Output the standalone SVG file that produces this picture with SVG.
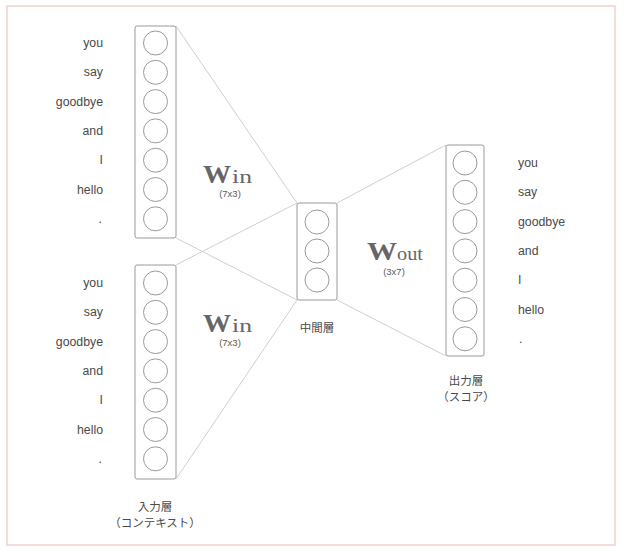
<svg xmlns="http://www.w3.org/2000/svg" width="628" height="550" viewBox="0 0 628 550">
<style>
.frame{fill:#fff;stroke:#e8c6c0;stroke-width:1.2}
.box{fill:none;stroke:#9a9a9a;stroke-width:1}
.nd{fill:#fff;stroke:#9a9a9a;stroke-width:1}
.conn{stroke:#cfcfcf;stroke-width:1;fill:none}
.lbl{font-family:"Liberation Sans",Arial,sans-serif;font-size:12.3px;fill:#4a4a4a}
.l{text-anchor:end}
.r{text-anchor:start}
.jp{font-family:"Noto Sans CJK JP","Noto Sans CJK SC",sans-serif;font-size:11.5px;fill:#4a4a4a;text-anchor:middle}
.W{font-family:"Liberation Serif","Times New Roman",serif;font-weight:bold;font-size:26px;fill:#666}
.sub{font-family:"Liberation Serif","Times New Roman",serif;font-size:18px;fill:#666}
.dim{font-family:"Liberation Sans",Arial,sans-serif;font-size:9.5px;fill:#5a5a5a;text-anchor:middle}
</style>
<rect width="628" height="550" fill="#fff"/>
<rect class="frame" x="7" y="6" width="608" height="539"/>

<g id="connectors">
<line class="conn" x1="176" y1="26" x2="297" y2="203"/>
<line class="conn" x1="176" y1="238" x2="297" y2="300"/>
<line class="conn" x1="176" y1="265" x2="297" y2="203"/>
<line class="conn" x1="176" y1="479" x2="297" y2="300"/>
<line class="conn" x1="337" y1="203" x2="446" y2="145"/>
<line class="conn" x1="337" y1="300" x2="446" y2="356"/>
</g>

<g id="input1">
<rect class="box" x="135" y="26" width="41" height="212" rx="2"/>
<circle class="nd" cx="155.5" cy="43" r="12"/>
<circle class="nd" cx="155.5" cy="72.3" r="12"/>
<circle class="nd" cx="155.5" cy="101.6" r="12"/>
<circle class="nd" cx="155.5" cy="130.9" r="12"/>
<circle class="nd" cx="155.5" cy="160.2" r="12"/>
<circle class="nd" cx="155.5" cy="189.5" r="12"/>
<circle class="nd" cx="155.5" cy="218.8" r="12"/>
<text class="lbl l" x="103" y="47">you</text>
<text class="lbl l" x="103" y="76.3">say</text>
<text class="lbl l" x="103" y="105.6">goodbye</text>
<text class="lbl l" x="103" y="134.9">and</text>
<text class="lbl l" x="103" y="164.2">I</text>
<text class="lbl l" x="103" y="193.5">hello</text>
<text class="lbl l" x="102" y="222.8">.</text>
</g>

<g id="input2">
<rect class="box" x="135" y="265" width="41" height="214" rx="2"/>
<circle class="nd" cx="155.5" cy="283" r="12"/>
<circle class="nd" cx="155.5" cy="312.3" r="12"/>
<circle class="nd" cx="155.5" cy="341.6" r="12"/>
<circle class="nd" cx="155.5" cy="370.9" r="12"/>
<circle class="nd" cx="155.5" cy="400.2" r="12"/>
<circle class="nd" cx="155.5" cy="429.5" r="12"/>
<circle class="nd" cx="155.5" cy="458.8" r="12"/>
<text class="lbl l" x="103" y="287">you</text>
<text class="lbl l" x="103" y="316.3">say</text>
<text class="lbl l" x="103" y="345.6">goodbye</text>
<text class="lbl l" x="103" y="374.9">and</text>
<text class="lbl l" x="103" y="404.2">I</text>
<text class="lbl l" x="103" y="433.5">hello</text>
<text class="lbl l" x="102" y="462.8">.</text>
<text class="jp" x="155" y="511">入力層</text>
<text class="jp" x="155" y="527">（コンテキスト）</text>
</g>

<g id="hidden">
<rect class="box" x="297" y="203" width="40" height="97" rx="2"/>
<circle class="nd" cx="317" cy="222" r="12"/>
<circle class="nd" cx="317" cy="251" r="12"/>
<circle class="nd" cx="317" cy="280" r="12"/>
<text class="jp" x="317" y="332">中間層</text>
</g>

<g id="output">
<rect class="box" x="446" y="145" width="38" height="211" rx="2"/>
<circle class="nd" cx="465" cy="163" r="12"/>
<circle class="nd" cx="465" cy="192.3" r="12"/>
<circle class="nd" cx="465" cy="221.6" r="12"/>
<circle class="nd" cx="465" cy="250.9" r="12"/>
<circle class="nd" cx="465" cy="280.2" r="12"/>
<circle class="nd" cx="465" cy="309.5" r="12"/>
<circle class="nd" cx="465" cy="338.8" r="12"/>
<text class="lbl r" x="518" y="167">you</text>
<text class="lbl r" x="518" y="196.3">say</text>
<text class="lbl r" x="518" y="225.6">goodbye</text>
<text class="lbl r" x="518" y="254.9">and</text>
<text class="lbl r" x="518" y="284.2">I</text>
<text class="lbl r" x="518" y="313.5">hello</text>
<text class="lbl r" x="519" y="342.8">.</text>
<text class="jp" x="466" y="385">出力層</text>
<text class="jp" x="466" y="401">（スコア）</text>
</g>

<g id="w-in-1">
<text class="W" x="203" y="183" textLength="28" lengthAdjust="spacingAndGlyphs">W</text>
<text class="sub" x="232" y="183" textLength="20" lengthAdjust="spacingAndGlyphs">in</text>
<text class="dim" x="230" y="197">(7x3)</text>
</g>
<g id="w-in-2">
<text class="W" x="203" y="332" textLength="28" lengthAdjust="spacingAndGlyphs">W</text>
<text class="sub" x="232" y="332" textLength="20" lengthAdjust="spacingAndGlyphs">in</text>
<text class="dim" x="230" y="346">(7x3)</text>
</g>
<g id="w-out">
<text class="W" x="367" y="260" textLength="30" lengthAdjust="spacingAndGlyphs">W</text>
<text class="sub" x="397" y="260" textLength="26" lengthAdjust="spacingAndGlyphs">out</text>
<text class="dim" x="394" y="275">(3x7)</text>
</g>
</svg>
